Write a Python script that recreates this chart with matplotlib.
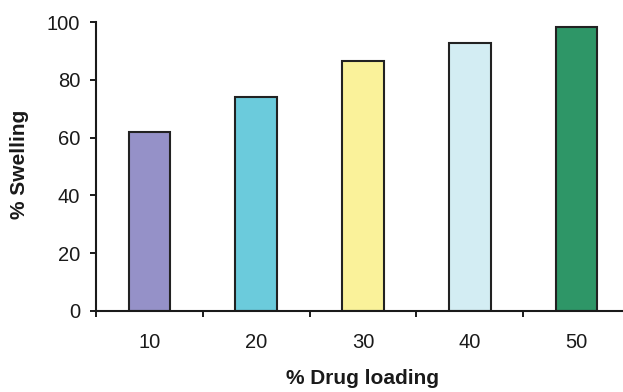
import matplotlib
matplotlib.use("Agg")
import matplotlib.pyplot as plt

# Swelling vs. drug loading
drug_loading = ["10", "20", "30", "40", "50"]
swelling = [62, 74, 86.4, 92.7, 98.3]
bar_colors = ["#9591c8", "#6bcbdc", "#faf29a", "#d3edf3", "#2e9667"]
y_ticks = [0, 20, 40, 60, 80, 100]

plt.rcParams["font.family"] = ["Liberation Sans", "DejaVu Sans"]

W, H = 623, 392
fig = plt.figure(figsize=(W / 100, H / 100), dpi=100)
fig.patch.set_facecolor("white")

# axes placed in pixel terms: y-axis at x=96, baseline at y=311, top at y=22
left, right, top, bottom = 96, 630, 22, 311
ax = fig.add_axes([left / W, 1 - bottom / H, (right - left) / W, (bottom - top) / H])

x = list(range(len(drug_loading)))
ax.bar(x, swelling, width=0.39, color=bar_colors, edgecolor="#222222",
       linewidth=1.5, zorder=2)

ax.set_xlim(-0.5, len(drug_loading) - 0.5)
ax.set_ylim(0, 100)

ax.set_yticks(y_ticks)
ax.set_yticklabels([str(v) for v in y_ticks])
ax.set_xticks(x)
ax.set_xticklabels(drug_loading)
ax.set_xticks([i - 0.5 for i in range(len(drug_loading) + 1)], minor=True)

for side in ("top", "right"):
    ax.spines[side].set_visible(False)
for side in ("left", "bottom"):
    ax.spines[side].set_linewidth(1.5)
    ax.spines[side].set_color("#1a1a1a")

ax.tick_params(axis="y", direction="out", length=4.5, width=1.4,
               color="#1a1a1a", labelsize=14.5, labelcolor="#1a1a1a", pad=7)
ax.tick_params(axis="x", which="major", length=0, labelsize=14.5,
               labelcolor="#1a1a1a", pad=16)
ax.tick_params(axis="x", which="minor", direction="out", length=4.5,
               width=1.4, color="#1a1a1a")

fig.text(20 / W, 1 - 164 / H, "% Swelling", rotation=90, ha="center",
         va="center", fontsize=15, fontweight="bold", color="#1a1a1a")
fig.text(363 / W, 1 - 379 / H, "% Drug loading", ha="center", va="center",
         fontsize=15, fontweight="bold", color="#1a1a1a")

fig.savefig("out.png", dpi=100, facecolor="white")
